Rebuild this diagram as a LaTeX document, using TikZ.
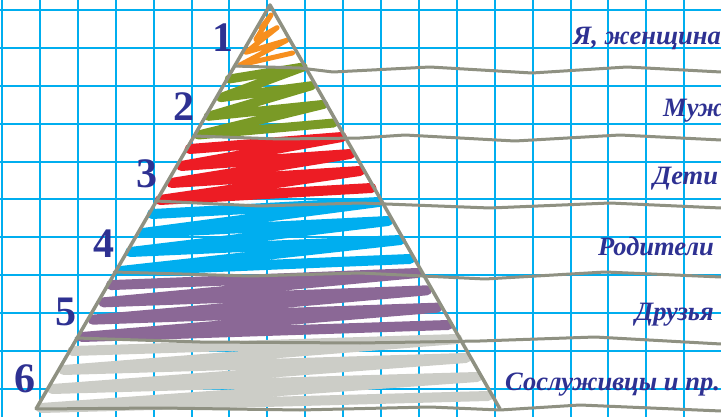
\documentclass[tikz,border=0pt]{standalone}
\usepackage{fontspec}
\setmainfont{Liberation Serif}
\usepackage{xcolor}
\definecolor{gridcyan}{RGB}{0,174,239}
\definecolor{edgegrey}{RGB}{143,145,130}
\definecolor{inknavy}{RGB}{46,49,146}
\definecolor{scrorange}{RGB}{247,143,30}
\definecolor{scrgreen}{RGB}{122,154,38}
\definecolor{scrred}{RGB}{237,28,36}
\definecolor{scrblue}{RGB}{0,174,239}
\definecolor{scrpurple}{RGB}{139,104,150}
\definecolor{scrgrey}{RGB}{204,205,199}
\tikzset{
  gridline/.style={draw=gridcyan,line width=2pt},
  bandline/.style={draw=edgegrey,line width=3pt,line join=round,line cap=round},
  pyredge/.style={draw=edgegrey,line width=3.5pt,line join=round},
  scrib/.style={line width=8pt,line cap=round,line join=round},
  tiernum/.style={text=inknavy,font=\fontsize{42}{42}\selectfont\bfseries,inner sep=0pt,anchor=base},
  tierlabel/.style={text=inknavy,font=\fontsize{26.5}{26.5}\selectfont\bfseries\itshape,inner sep=0pt,anchor=base west}
}
% zigzag fill of one band: colour, top, bottom, turns, stroke width
\newcommand\bandscrib[5]{%
  \draw[scrib,draw=#1,line width=#5] ({270-0.5792*(#2+7+6-5)+3},{#2+7+6})
    \foreach \k [evaluate=\k as \yy using {#2+7+\k*(#3-#2-14)/#4},
                 evaluate=\k as \jt using {rnd*4}] in {0,...,#4} {
      -- ({270-0.5792*(\yy+6-5)+2+\jt},{\yy+6}) -- ({270+0.5693*(\yy-6-5)-2-\jt},{\yy-6}) };
}

\begin{document}
\begin{tikzpicture}[x=1pt,y=-1pt]
  \pgfmathsetseed{11}
  \useasboundingbox (0,0) rectangle (721,417);
  \clip (0,0) rectangle (721,417);
  % squared paper
  \foreach \i in {0,...,19}
    \draw[gridline] ({2+37.9*\i},0) -- ({2+37.9*\i},417);
  \foreach \j in {0,...,10}
    \draw[gridline] (0,{10+37.9*\j}) -- (721,{10+37.9*\j});

  % coloured tiers
  \bandscrib{scrorange}{14}{66}{3}{5pt}
  \bandscrib{scrgreen}{66}{136}{3}{9pt}
  \bandscrib{scrred}{136}{201}{3}{10pt}
  \bandscrib{scrblue}{201}{272}{3}{10pt}
  \bandscrib{scrpurple}{272}{338}{3}{10pt}
  \bandscrib{scrgrey}{338}{409}{3}{10pt}

  % tier borders
  \draw[bandline] (234.2,66) -- (300,68) -- (333,72) -- (430,67) -- (532,73) -- (627,67) -- (721,72);
  \draw[bandline] (193.6,136) -- (280,139) -- (360,138) -- (405,135) -- (515,141) -- (620,135) -- (721,140);
  \draw[bandline] (155.3,201) -- (260,206) -- (360,203) -- (490,208) -- (610,203) -- (721,208);
  \draw[bandline] (114.2,272) -- (250,276) -- (360,273) -- (485,279) -- (605,272) -- (721,277);
  \draw[bandline] (76.0,338) -- (200,342) -- (360,343) -- (480,341) -- (595,337) -- (721,344);
  \draw[bandline] (36,409) -- (160,408) -- (300,410) -- (430,407) -- (500,410) -- (580,405) -- (721,411);

  % pyramid
  \coordinate (apex) at (270,5);
  \coordinate (baseL) at (36,409);
  \coordinate (baseR) at (500,409);
  \draw[pyredge] (baseL) -- (apex) -- (baseR);

  % tier numbers
  \node[tiernum] (n1) at (223,52) {1};
  \node[tiernum] (n2) at (184,121) {2};
  \node[tiernum] (n3) at (147,188) {3};
  \node[tiernum] (n4) at (104,258) {4};
  \node[tiernum] (n5) at (66,325) {5};
  \node[tiernum] (n6) at (25,392) {6};

  % tier names
  \node[tierlabel] (t1) at (573,45) {Я, женщина};
  \node[tierlabel] (t2) at (663,117) {Муж};
  \node[tierlabel] (t3) at (653,185) {Дети};
  \node[tierlabel] (t4) at (598,255) {Родители};
  \node[tierlabel] (t5) at (635,320) {Друзья};
  \node[tierlabel] (t6) at (505,390) {Сослуживцы и пр.};
\end{tikzpicture}
\end{document}
